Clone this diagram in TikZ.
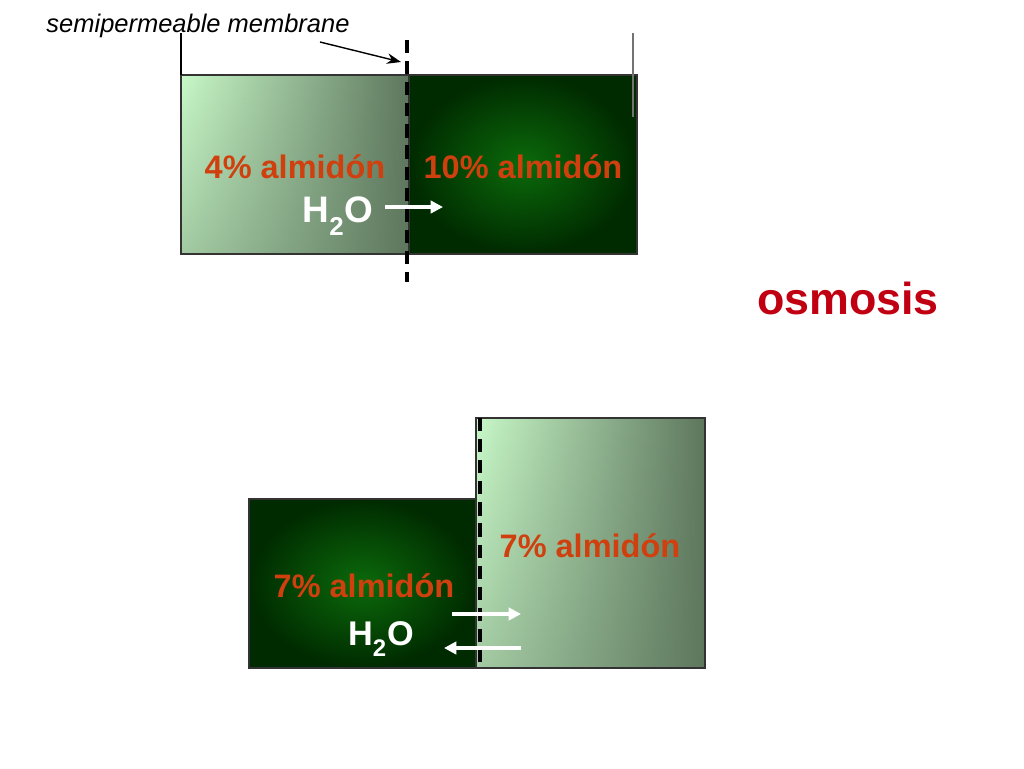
\documentclass[tikz,border=0pt]{standalone}
\usepackage{fontspec}
\setmainfont{Liberation Sans}
\usetikzlibrary{arrows.meta,fadings}
\definecolor{paleleaf}{HTML}{C8F8C8}
\definecolor{greyleaf}{HTML}{5E775E}
\definecolor{deepleaf}{HTML}{0B6A0B}
\definecolor{darkleaf}{HTML}{002A00}
\definecolor{starch}{HTML}{D0400E}
\definecolor{osmored}{HTML}{C00012}
\newcommand{\lowtwo}{\raisebox{-0.35ex}{\textsubscript{2}}}
\tikzset{
  weak/.style={draw=black!80, line width=0.6pt, left color=paleleaf, right color=greyleaf},
  strong/.style={draw=black!80, line width=0.6pt, inner color=deepleaf, outer color=darkleaf},
  dusk/.style={fill=greyleaf, fill opacity=0.35, path fading=north},
  membrane/.style={line width=1.8pt, dash pattern=on 7.5pt off 4.5pt},
  conc/.style={text=starch, font=\bfseries\fontsize{18.5}{22}\selectfont},
  water/.style={text=white, font=\bfseries\fontsize{21}{25}\selectfont},
  flow/.style={white, line width=1.8pt, -{Triangle[length=7pt,width=7pt]}},
}
\begin{document}
\begin{tikzpicture}[x=0.02cm,y=-0.02cm]
\useasboundingbox (0,0) rectangle (1024,768);

% before: 4% | 10%
\shade[weak] (181,75) rectangle (409,254);
\fill[dusk] (181,75) rectangle (409,254);
\draw[line width=0.6pt, black!80] (181,75) rectangle (409,254);
\shade[strong] (409,75) rectangle (637,254);
\draw[line width=0.6pt] (181,33) -- (181,75);
\draw[line width=0.6pt, black!55] (633,33) -- (633,117);
\draw[membrane] (407,40) -- (407,282);

\node[font=\itshape\fontsize{14.5}{17}\selectfont] (label) at (198,26) {semipermeable membrane};
\coordinate (tip) at (401,62);
\draw[line width=0.8pt, -{Stealth[length=8pt,width=6pt]}] (320,42) -- (tip);

\node[conc] (low) at (295,167) {4\% almidón};
\node[conc] (high) at (523,167) {10\% almidón};
\node[water] (w1) at (338,216) {H\lowtwo O};
\coordinate (w1e) at (443,207);
\draw[flow] (385,207) -- (w1e);

\node[text=osmored, font=\bfseries\fontsize{25.5}{30}\selectfont] (title) at (848,298) {osmosis};

% after: 7% | 7%
\shade[strong] (249,499) rectangle (476,668);
\shade[weak] (476,418) rectangle (705,668);
\fill[dusk] (476,418) rectangle (705,668);
\draw[line width=0.6pt, black!80] (476,418) rectangle (705,668);
\draw[membrane] (480,418) -- (480,662);

\node[conc] (right) at (590,546) {7\% almidón};
\node[conc] (left) at (364,586) {7\% almidón};
\node[water, font=\bfseries\fontsize{19.5}{23}\selectfont] (w2) at (381,639) {H\lowtwo O};
\coordinate (in) at (521,614);
\coordinate (out) at (444,648);
\draw[flow] (452,614) -- (in);
\draw[flow] (521,648) -- (out);
\end{tikzpicture}
\end{document}
